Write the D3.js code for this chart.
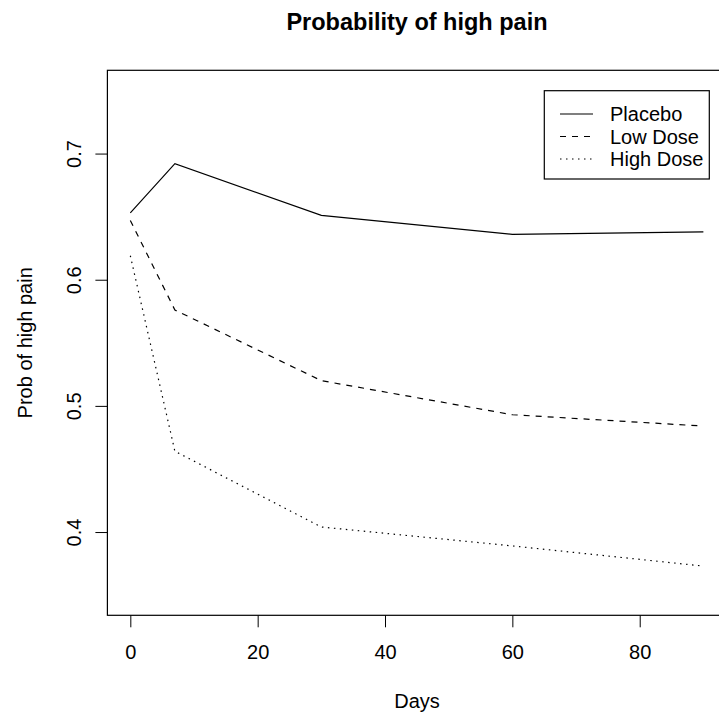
<!DOCTYPE html>
<head><meta charset="utf-8"/></head>
<style>
body { margin: 0; background: white; }
svg { font-family: "Liberation Sans", Arial, sans-serif; }
.tick line { stroke: black; }
.tick text { fill: black; font-size: 20px; }
</style>
<script src="https://d3js.org/d3.v7.min.js"></script>
<body>
<div id="chart"></div>
</body>
<script>

// data
var days = [0, 7, 30, 60, 90];
var placebo  = [0.653, 0.692, 0.651, 0.636, 0.638];
var lowDose  = [0.647, 0.576, 0.520, 0.493, 0.484];
var highDose = [0.619, 0.464, 0.404, 0.389, 0.373];
var seriesNames = ["Placebo", "Low Dose", "High Dose"];
var xTicks = [0, 20, 40, 60, 80];
var yTicks = [0.4, 0.5, 0.6, 0.7];

var width = 719, height = 716;
var dashes = ["none", "6,6", "1.5,4.5"];

var svg = d3.select("#chart").append("svg")
    .attr("width", width)
    .attr("height", height);

// R style limits: xlim 0..90, ylim 0.35..0.75, each widened by 4%
var x = d3.scaleLinear().domain([-3.6, 93.6]).range([107.4, 726.3]);
var y = d3.scaleLinear().domain([0.334, 0.766]).range([615.3, 70.3]);

var xAxis = svg.append("g")
    .attr("transform", "translate(0," + y.range()[0] + ")")
    .call(d3.axisBottom(x).tickValues(xTicks).tickSize(12).tickPadding(10).tickFormat(d3.format("d")));
xAxis.select(".domain").remove();
xAxis.selectAll("text").attr("dy", null).attr("y", 44);

var yAxis = svg.append("g")
    .attr("transform", "translate(" + x.range()[0] + ",0)")
    .call(d3.axisLeft(y).tickValues(yTicks).tickSize(12).tickFormat(d3.format(".1f")));
yAxis.select(".domain").remove();
yAxis.selectAll("text")
    .attr("x", null).attr("dy", null)
    .attr("text-anchor", "middle")
    .attr("transform", "translate(-26,0) rotate(-90)");

// box
svg.append("rect")
    .attr("x", x.range()[0])
    .attr("y", y.range()[1])
    .attr("width", x.range()[1] - x.range()[0])
    .attr("height", y.range()[0] - y.range()[1])
    .style("fill", "none")
    .style("stroke", "black")
    .style("stroke-width", 1.2);

var allSeries = [placebo, lowDose, highDose];
var line = d3.line()
    .x(function(d, i) { return x(days[i]); })
    .y(function(d) { return y(d); });

svg.selectAll(".series")
    .data(allSeries)
    .enter().append("path")
    .attr("class", "series")
    .attr("d", line)
    .style("fill", "none")
    .style("stroke", "black")
    .style("stroke-width", 1.2)
    .style("stroke-dasharray", function(d, i) { return dashes[i]; });

// titles
svg.append("text")
    .attr("x", 417).attr("y", 30)
    .attr("text-anchor", "middle")
    .style("font-size", "23.5px")
    .style("font-weight", "bold")
    .text("Probability of high pain");

svg.append("text")
    .attr("x", 417).attr("y", 708)
    .attr("text-anchor", "middle")
    .style("font-size", "20px")
    .text("Days");

svg.append("text")
    .attr("transform", "translate(32," + (y.range()[0] + y.range()[1]) / 2 + ") rotate(-90)")
    .attr("text-anchor", "middle")
    .style("font-size", "20px")
    .text("Prob of high pain");

// legend
var legend = svg.append("g");
legend.append("rect")
    .attr("x", 544.3).attr("y", 90.7)
    .attr("width", 165).attr("height", 88.3)
    .style("fill", "white")
    .style("stroke", "black")
    .style("stroke-width", 1.2);

var rows = legend.selectAll(".row")
    .data(seriesNames)
    .enter().append("g")
    .attr("transform", function(d, i) { return "translate(0," + (114 + i * 22.5) + ")"; });

rows.append("line")
    .attr("x1", 560).attr("x2", 593)
    .style("stroke", "black")
    .style("stroke-width", 1.2)
    .style("stroke-dasharray", function(d, i) { return dashes[i]; });

rows.append("text")
    .attr("x", 610).attr("y", 7)
    .style("font-size", "20px")
    .text(function(d) { return d; });

</script>
